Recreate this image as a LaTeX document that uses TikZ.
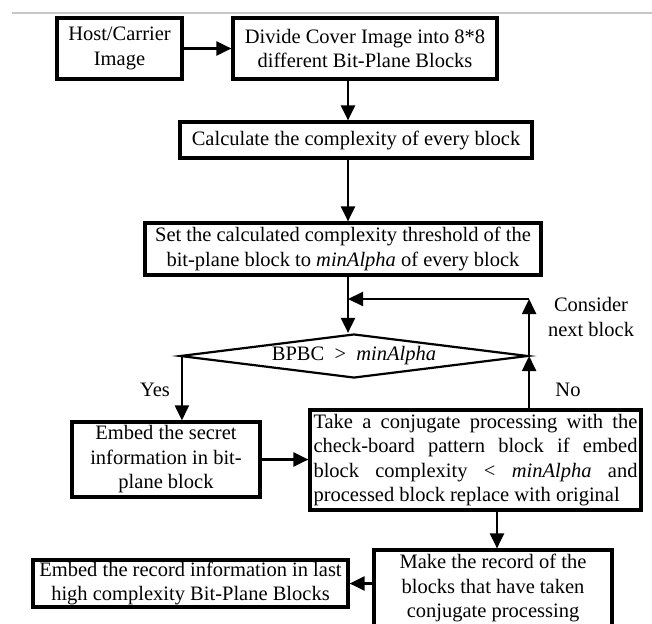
\documentclass[tikz,border=0pt]{standalone}
\usepackage{fontspec}
\setmainfont{Liberation Serif}
\usetikzlibrary{shapes.geometric,arrows.meta}
\begin{document}
\begin{tikzpicture}[x=1pt,y=-1pt,
  txt/.style={font=\fontsize{20.5}{24.5}\selectfont},
  box/.style={txt,draw,line width=3.2pt,inner sep=0pt,align=center},
  arr/.style={line width=2.2pt,-{Triangle[length=15pt,width=14pt]}},
  lbl/.style={txt,inner sep=0pt,align=center}]
\useasboundingbox (0,0) rectangle (652,623);
\clip (0,0) rectangle (652,623);
\draw[gray!45,line width=2.4pt] (12,13) -- (652,13);

\node[box,line width=4.2pt,minimum width=125pt,minimum height=61pt] (b1) at (119.5,48.5) {Host/Carrier\\Image};
\node[box,minimum width=264pt,minimum height=61pt] (b2) at (365,48.5) {Divide Cover Image into 8*8\\different Bit-Plane Blocks};
\node[box,minimum width=352pt,minimum height=36pt] (b3) at (356,140) {Calculate the complexity of every block};
\node[box,minimum width=396pt,minimum height=52pt] (b4) at (343,249) {Set the calculated complexity threshold of the\\bit-plane block to \textit{minAlpha} of every block};
\node[txt,diamond,draw,line width=2.2pt,minimum width=348pt,minimum height=44pt,inner sep=0pt,aspect=7.9] (d) at (354,356) {BPBC\enspace>\enspace\textit{minAlpha}};
\node[box,minimum width=188pt,minimum height=75pt] (emb) at (166,459.5) {Embed the secret\\information in bit-\\plane block};
\node[box,minimum width=331pt,minimum height=100pt,text width=324pt,align=justify] (conj) at (475.5,460) {\hyphenpenalty=10000\exhyphenpenalty=10000 Take a conjugate processing with the\linebreak check-board pattern block if embed\linebreak block complexity < \textit{minAlpha} and\linebreak processed block replace with original};
\node[box,minimum width=238pt,minimum height=76pt] (rec) at (493,588) {Make the record of the\\blocks that have taken\\conjugate processing};
\node[box,minimum width=315pt,minimum height=47pt] (last) at (190.5,583.5) {Embed the record information in last\\high complexity Bit-Plane Blocks};

\node[lbl] (yl) at (155,390) {Yes};
\node[lbl] (nl) at (568,390) {No};
\node[lbl] (cl) at (591,317) {Consider\\next block};

\coordinate (col) at (348,0);
\coordinate (dn) at (497,0);
\coordinate (yes) at ([xshift=3pt]d.west);
\path (d.east) ++(0,-57) coordinate (loop);

\draw[arr] (b1) -- (b2);
\draw[arr] (b2.south -| col) -- (b3.north -| col);
\draw[arr] (b3.south -| col) -- (b4.north -| col);
\draw[arr] (b4.south -| col) -- (d.north -| col);
\draw[arr] (d.east) -- (loop);
\draw[arr] (loop) -- (loop -| col);
\draw[arr] (conj.north -| d.east) -- (d.east);
\draw[arr] (yes) -- (yes |- emb.north);
\draw[arr] (emb.east) -- (emb.east -| conj.west);
\draw[arr] (conj.south -| dn) -- (rec.north -| dn);
\draw[arr] (rec.west |- last.east) -- (last.east);
\end{tikzpicture}
\end{document}
